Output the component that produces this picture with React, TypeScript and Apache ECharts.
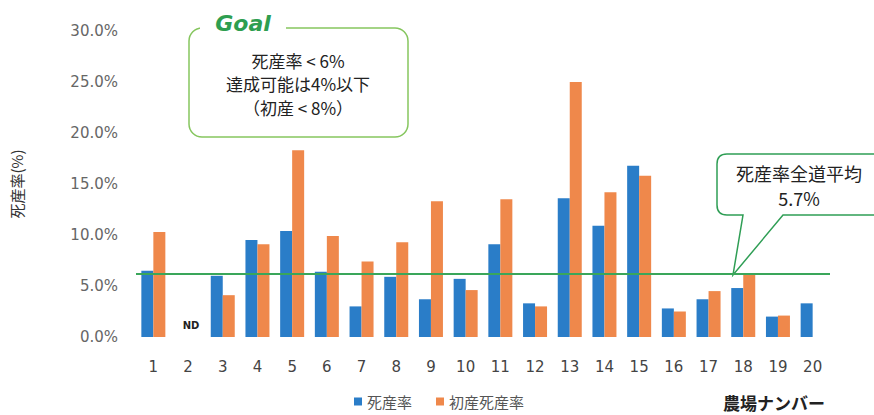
import React, { useEffect, useRef } from "react";
import * as echarts from "echarts";

const farms = ["1", "2", "3", "4", "5", "6", "7", "8", "9", "10", "11", "12", "13", "14", "15", "16", "17", "18", "19", "20"];
const stillbirthRate: (number | string)[] = [6.5, "-", 6.0, 9.5, 10.4, 6.4, 3.0, 5.9, 3.7, 5.7, 9.1, 3.3, 13.6, 10.9, 16.8, 2.8, 3.7, 4.8, 2.0, 3.3];
const firstParityRate: (number | string)[] = [10.3, "-", 4.1, 9.1, 18.3, 9.9, 7.4, 9.3, 13.3, 4.6, 13.5, 3.0, 25.0, 14.2, 15.8, 2.5, 4.5, 6.1, 2.1, "-"];
const seriesNames = ["死産率", "初産死産率"];
const averageLine = 6.2;
const goalLines = ["死産率 < 6%", "達成可能は4%以下", "（初産 < 8%）"];
const averageLines = ["死産率全道平均", "5.7%"];

const FONT = "'DejaVu Sans', 'Noto Sans CJK JP', sans-serif";
const JFONT = "'Noto Sans CJK JP', sans-serif";

const calloutPath =
  "M 727 154 L 900 154 L 900 215 L 783 215 L 733 275 L 743 215 L 727 215 Q 717 215 717 205 L 717 164 Q 717 154 727 154 Z";
echarts.graphic.registerShape("callout", echarts.graphic.extendPath(calloutPath, {}));

export default function App() {
  const ref = useRef<HTMLDivElement>(null);
  useEffect(() => {
    document.body.style.margin = "0";
    const chart = echarts.init(ref.current!, null, { renderer: "svg" });
    chart.setOption({
      animation: false,
      backgroundColor: "#ffffff",
      grid: { left: 136, right: 44, top: 31, bottom: 78 },
      legend: {
        data: seriesNames,
        left: 349,
        top: 389,
        icon: "rect",
        itemWidth: 8,
        itemHeight: 8,
        itemGap: 24,
        textStyle: { fontSize: 15, color: "#555", fontFamily: JFONT },
      },
      xAxis: {
        type: "category",
        data: farms,
        axisLine: { show: false },
        axisTick: { show: false },
        axisLabel: { fontSize: 15, color: "#444", margin: 22, fontFamily: FONT },
      },
      yAxis: {
        type: "value",
        min: 0,
        max: 30,
        interval: 5,
        name: "死産率(%)",
        nameLocation: "middle",
        nameGap: 112,
        nameRotate: 90,
        nameTextStyle: { fontSize: 15, color: "#333", fontFamily: JFONT },
        axisLine: { show: false },
        axisTick: { show: false },
        splitLine: { show: false },
        axisLabel: {
          fontSize: 15,
          color: "#666",
          margin: 18,
          fontFamily: FONT,
          formatter: (v: number) => v.toFixed(1) + "%",
        },
      },
      series: [
        {
          name: seriesNames[0],
          type: "bar",
          data: stillbirthRate,
          barWidth: 12,
          barGap: "0%",
          itemStyle: { color: "#2a7dc8" },
          markLine: {
            silent: true,
            symbol: "none",
            label: { show: false },
            lineStyle: { color: "#3aa65a", width: 2, type: "solid" },
            data: [{ yAxis: averageLine }],
          },
        },
        {
          name: seriesNames[1],
          type: "bar",
          data: firstParityRate,
          barWidth: 12,
          itemStyle: { color: "#ef884b" },
        },
      ],
      graphic: [
        {
          type: "rect",
          shape: { x: 189, y: 28, width: 219, height: 109, r: 13 },
          style: { fill: "#fff", stroke: "#86c65f", lineWidth: 1.5 },
        },
        {
          type: "rect",
          shape: { x: 200, y: 18, width: 86, height: 18 },
          style: { fill: "#fff" },
        },
        {
          type: "text",
          x: 243,
          y: 23,
          style: {
            text: "Goal",
            fontSize: 22,
            fontWeight: "bold",
            fontStyle: "italic",
            fill: "#2e9e50",
            fontFamily: FONT,
            align: "center",
            verticalAlign: "middle",
          },
        },
        ...goalLines.map((t, i) => ({
          type: "text",
          x: 298,
          y: 60 + i * 23.5,
          style: {
            text: t,
            fontSize: 17,
            fill: "#222",
            fontFamily: JFONT,
            align: "center",
            verticalAlign: "middle",
          },
        })),
        {
          type: "callout",
          style: { fill: "#fff", stroke: "#2f9e55", lineWidth: 1.5 },
        },
        ...averageLines.map((t, i) => ({
          type: "text",
          x: 799,
          y: 173 + i * 25,
          style: {
            text: t,
            fontSize: 18,
            fill: "#222",
            fontFamily: JFONT,
            align: "center",
            verticalAlign: "middle",
          },
        })),
        {
          type: "text",
          x: 191,
          y: 325,
          style: {
            text: "ND",
            fontSize: 10,
            fontWeight: "bold",
            fill: "#222",
            fontFamily: FONT,
            align: "center",
            verticalAlign: "middle",
          },
        },
        {
          type: "text",
          x: 774,
          y: 402,
          style: {
            text: "農場ナンバー",
            fontSize: 17,
            fontWeight: "bold",
            fill: "#222",
            fontFamily: JFONT,
            align: "center",
            verticalAlign: "middle",
          },
        },
      ],
    });
    return () => chart.dispose();
  }, []);
  return <div ref={ref} style={{ width: 874, height: 415 }} />;
}
